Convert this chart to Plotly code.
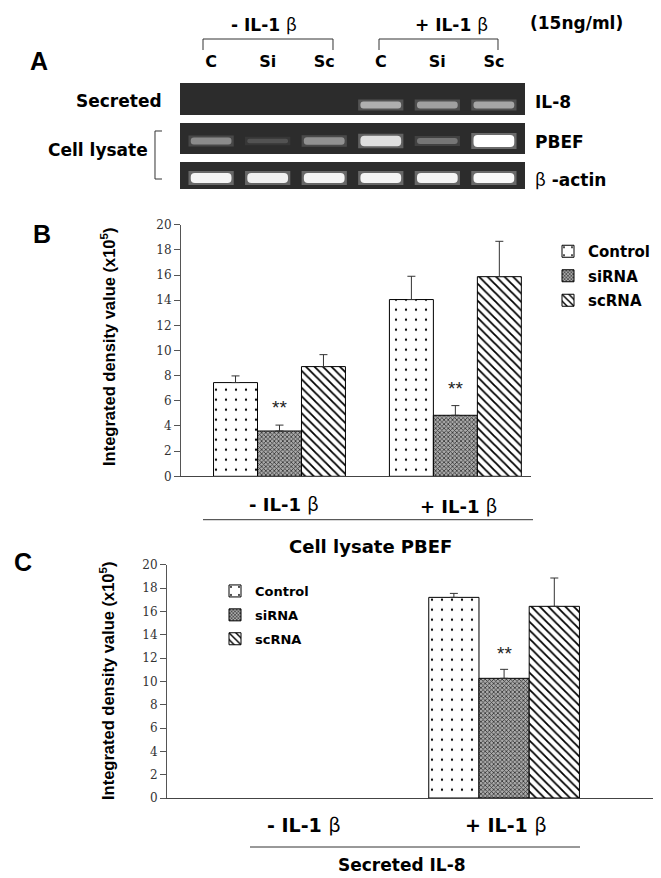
import plotly.graph_objects as go

W, H = 661, 878

# ---------------- data ----------------
# panel A: relative band brightness per lane (0 = no band)
lanes = ["C", "Si", "Sc", "C", "Si", "Sc"]
il8_band = [0, 0, 0, 0.62, 0.55, 0.58]
pbef_band = [0.45, 0.18, 0.48, 0.85, 0.35, 1.0]
actin_band = [0.95, 0.93, 0.95, 0.95, 0.95, 0.97]

# panel B: cell lysate PBEF (x10^5)
pbef_control = [7.45, 14.05]
pbef_control_err = [0.53, 1.85]
pbef_sirna = [3.6, 4.85]
pbef_sirna_err = [0.47, 0.77]
pbef_scrna = [8.72, 15.87]
pbef_scrna_err = [0.95, 2.81]

# panel C: secreted IL-8 (x10^5), nothing detected without IL-1b
il8_control = [None, 17.2]
il8_control_err = [0, 0.34]
il8_sirna = [None, 10.26]
il8_sirna_err = [0, 0.77]
il8_scrna = [None, 16.43]
il8_scrna_err = [0, 2.43]

series = ["Control", "siRNA", "scRNA"]
signif = [True, True]          # ** over siRNA in B
signif_c = [False, True]       # ** over siRNA in C


def px(x):
    return x / W


def py(y):
    return 1 - y / H


BETA = '<span style="font-family:Noto Sans CJK KR;font-weight:normal">β</span>'
SANS = "Liberation Sans"
WIDE = "DejaVu Sans"
SERIF = "DejaVu Serif"

bar_styles = {
    "Control": dict(color="white", pattern=dict(shape=".", size=10, solidity=0.04,
                                                 fgcolor="black", bgcolor="white", fillmode="replace")),
    "siRNA": dict(color="#777", pattern=dict(shape="x", size=3, solidity=0.45,
                                              fgcolor="#333", bgcolor="#aaa", fillmode="replace")),
    "scRNA": dict(color="white", pattern=dict(shape="\\", size=6, solidity=0.3,
                                               fgcolor="black", bgcolor="white", fillmode="replace")),
}

fig = go.Figure()

# ---------------- panel B ----------------
b_vals = [(pbef_control, pbef_control_err), (pbef_sirna, pbef_sirna_err), (pbef_scrna, pbef_scrna_err)]
for name, (vals, err) in zip(series, b_vals):
    st = bar_styles[name]
    fig.add_trace(go.Bar(
        x=[0, 1], y=vals, name=name, xaxis="x", yaxis="y",
        marker=dict(color=st["color"], pattern=st["pattern"], line=dict(color="black", width=1)),
        error_y=dict(type="data", array=err, arrayminus=[0, 0], symmetric=False,
                     color="#333", thickness=1, width=4),
        legend="legend", legendgroup="b" + name, showlegend=True))

# ---------------- panel C ----------------
c_vals = [(il8_control, il8_control_err), (il8_sirna, il8_sirna_err), (il8_scrna, il8_scrna_err)]
for name, (vals, err) in zip(series, c_vals):
    st = bar_styles[name]
    fig.add_trace(go.Bar(
        x=[0, 1], y=vals, name=name, xaxis="x2", yaxis="y2",
        marker=dict(color=st["color"], pattern=st["pattern"], line=dict(color="black", width=1)),
        error_y=dict(type="data", array=err, arrayminus=[0, 0], symmetric=False,
                     color="#333", thickness=1, width=4),
        legend="legend2", legendgroup="c" + name, showlegend=True))

# ---------------- panel A (gel) ----------------
rows = [(il8_band, 22, 7), (pbef_band, 58, None), (actin_band, 95, 10)]
for bands, yc, thick in rows:
    xs, base, hgt, cols, gbase, ghgt = [], [], [], [], [], []
    for i, v in enumerate(bands):
        if v <= 0:
            continue
        t = thick if thick else 3 + 9 * v
        g = int(45 + 210 * v)
        xs.append(i)
        base.append(yc - t / 2)
        hgt.append(t)
        cols.append("rgb(%d,%d,%d)" % (g, g, g))
        gbase.append(yc - t / 2 - 2)
        ghgt.append(t + 4)
    fig.add_trace(go.Bar(x=xs, y=ghgt, base=gbase, width=0.8, xaxis="x3", yaxis="y3",
                         marker=dict(color=cols, opacity=0.3), offsetgroup="gel",
                         showlegend=False, hoverinfo="skip"))
    fig.add_trace(go.Bar(x=xs, y=hgt, base=base, width=0.72, xaxis="x3", yaxis="y3",
                         marker=dict(color=cols, cornerradius=4), offsetgroup="gel",
                         showlegend=False, hoverinfo="skip"))

shapes = []
for y0, y1 in [(0, 32), (40, 71), (79, 106)]:
    shapes.append(dict(type="rect", xref="x3 domain", yref="y3", x0=0, x1=1, y0=y0, y1=y1,
                       fillcolor="#2c2c2c", line=dict(width=0), layer="below"))


def path(points):
    return "M " + " L ".join("%f %f" % (px(a), py(b)) for a, b in points)


# brackets (panel A)
for xa, xb in [(195, 325), (371, 490)]:
    shapes.append(dict(type="path", xref="paper", yref="paper",
                       path=path([(xa, 42), (xa, 31), (xb, 31), (xb, 42)]),
                       line=dict(color="#333", width=1)))
shapes.append(dict(type="path", xref="paper", yref="paper",
                   path=path([(154, 123), (147, 123), (147, 171), (154, 171)]),
                   line=dict(color="#333", width=1)))
# underlines under group labels
shapes.append(dict(type="line", xref="paper", yref="paper", x0=px(195), x1=px(525),
                   y0=py(511.7), y1=py(511.7), line=dict(color="#333", width=1)))
shapes.append(dict(type="line", xref="paper", yref="paper", x0=px(242), x1=px(572),
                   y0=py(839), y1=py(839), line=dict(color="#333", width=1)))

annotations = []


def label(text, x, y, size=17, xanchor="center", bold=True, angle=0, family=WIDE):
    annotations.append(dict(text=("<b>%s</b>" % text) if bold else text, x=px(x), y=py(y),
                            xref="paper", yref="paper", xanchor=xanchor, yanchor="middle",
                            showarrow=False, textangle=angle, borderpad=0,
                            font=dict(family=family, size=size, color="black")))


def il1(sign):
    return "<b>%s IL-1 </b>%s" % (sign, BETA)


label("A", 31, 53, size=25, family=SANS)
label("B", 34, 226, size=25, family=SANS)
label("C", 15, 554, size=25, family=SANS)

label(il1("-"), 256, 15, bold=False)
label(il1("+"), 443, 15, bold=False)
label("(15ng/ml)", 568, 15)
label("Secreted", 155, 93, xanchor="right")
label("Cell lysate", 141, 142, xanchor="right")
label("IL-8", 526, 94, xanchor="left")
label("PBEF", 526, 134, xanchor="left")
label(BETA + "<b> -actin</b>", 526, 171, xanchor="left", bold=False)

# panel B texts
label("Integrated density value (x10<sup>5</sup>)", 100, 339, size=16.5, angle=-90, family=SANS)
label(il1("-"), 276, 495, size=18, bold=False)
label(il1("+"), 450, 497, size=18, bold=False)
label("Cell lysate PBEF", 362, 538, size=18)

# panel C texts
label("Integrated density value (x10<sup>5</sup>)", 99, 673, size=16.5, angle=-90, family=SANS)
label(il1("-"), 295, 815, size=19, bold=False)
label(il1("+"), 497, 815, size=19, bold=False)
label("Secreted IL-8", 394, 857, size=17)

# significance marks over siRNA bars
for i, s in enumerate(signif):
    if s:
        annotations.append(dict(text="**", x=i, y=pbef_sirna[i] + pbef_sirna_err[i], xref="x", yref="y",
                                yanchor="bottom", yshift=5, showarrow=False,
                                font=dict(family=SANS, size=19, color="#222")))
for i, s in enumerate(signif_c):
    if s:
        annotations.append(dict(text="**", x=i, y=il8_sirna[i] + il8_sirna_err[i], xref="x2", yref="y2",
                                yanchor="bottom", yshift=3, showarrow=False,
                                font=dict(family=SANS, size=19, color="#222")))

yax = dict(range=[0, 20], dtick=2, ticks="outside", ticklen=6, tickcolor="#555",
           showline=True, linecolor="#555", linewidth=1, showgrid=False, zeroline=False,
           tickfont=dict(family=SERIF, size=12, color="#333"))
xax = dict(showline=True, linecolor="#444", linewidth=1, showgrid=False, zeroline=False,
           showticklabels=False, ticks="")

fig.update_layout(
    width=W, height=H, template="none",
    margin=dict(l=0, r=0, t=0, b=0),
    paper_bgcolor="white", plot_bgcolor="rgba(0,0,0,0)",
    barmode="group", bargap=0.25, bargroupgap=0,
    xaxis=dict(xax, domain=[px(173), px(523)], range=[-0.56, 1.43], anchor="y"),
    yaxis=dict(yax, domain=[py(468.3), py(216.7)], anchor="x"),
    xaxis2=dict(xax, domain=[px(159), px(656)], range=[-0.678, 1.796], anchor="y2"),
    yaxis2=dict(yax, domain=[py(790), py(556.7)], anchor="x2"),
    xaxis3=dict(domain=[px(172), px(517)], range=[-0.55, 5.55], anchor="y3", side="top",
                tickvals=list(range(len(lanes))), ticktext=lanes, ticks="outside",
                ticklen=9, tickcolor="rgba(0,0,0,0)", showline=False, showgrid=False, zeroline=False,
                tickfont=dict(family=WIDE, size=16, color="black", weight="bold")),
    yaxis3=dict(domain=[py(181), py(75)], range=[106, 0], anchor="x3", visible=False),
    legend=dict(x=px(540), y=py(227), xanchor="left", yanchor="top", bgcolor="rgba(0,0,0,0)",
                font=dict(family=WIDE, size=15, color="black", weight="bold"),
                tracegroupgap=2, itemwidth=30),
    legend2=dict(x=px(207), y=py(568), xanchor="left", yanchor="top", bgcolor="rgba(0,0,0,0)",
                 font=dict(family=WIDE, size=13, color="black", weight="bold"),
                 tracegroupgap=4, itemwidth=30),
    shapes=shapes,
    annotations=annotations,
    showlegend=True,
)

fig.write_html("out.html")
